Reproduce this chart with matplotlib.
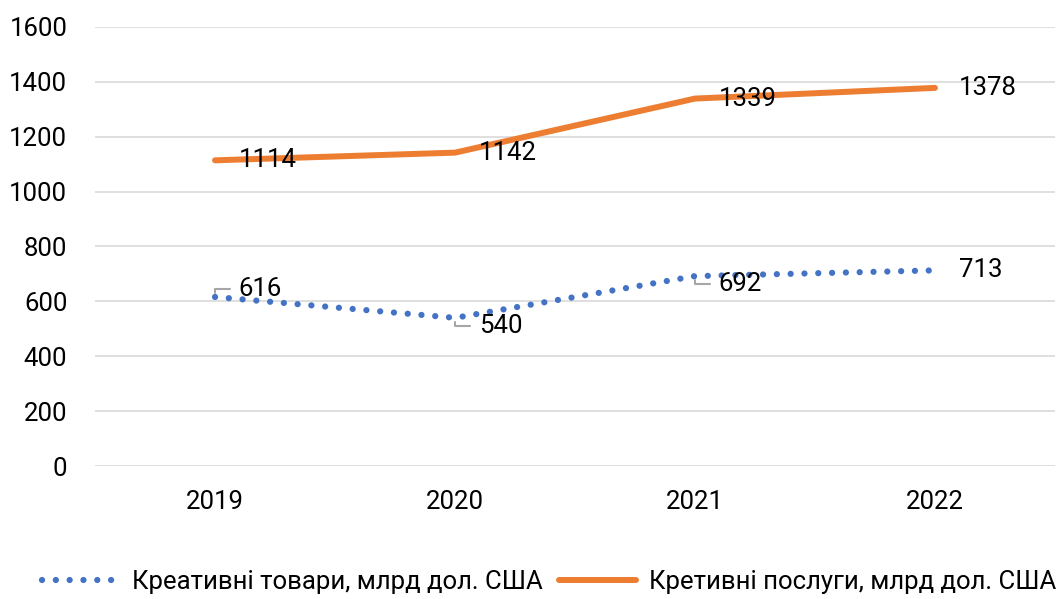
import matplotlib
matplotlib.use("Agg")
import matplotlib.pyplot as plt

years = ["2019", "2020", "2021", "2022"]
goods = [616, 540, 692, 713]
services = [1114, 1142, 1339, 1378]
goods_label = "Креативні товари, млрд дол. США"
services_label = "Кретивні послуги, млрд дол. США"
yticks = [0, 200, 400, 600, 800, 1000, 1200, 1400, 1600]

plt.rcParams['font.family'] = ['Roboto', 'DejaVu Sans']
FS = 18.5

fig = plt.figure(figsize=(10.56, 5.99), dpi=100)
ax = fig.add_axes([0.090, 0.222, 0.909, 0.733])
x = list(range(len(years)))

ax.plot(x, goods, color='#4472C4', linewidth=4.5, linestyle=(0, (0.01, 2.2)),
        dash_capstyle='round', solid_capstyle='round', label=goods_label, zorder=3)
ax.plot(x, services, color='#ED7D31', linewidth=4.3, solid_capstyle='round',
        label=services_label, zorder=3)

ax.set_xlim(-0.5, 3.5)
ax.set_ylim(0, 1600)
ax.set_yticks(yticks)
ax.set_xticks(x)
ax.set_xticklabels(years)
ax.grid(axis='y', color='#D9D9D9', linewidth=1.2)
ax.set_axisbelow(True)
for s in ax.spines.values():
    s.set_visible(False)
ax.tick_params(axis='both', length=0, labelsize=FS, colors='black')
ax.tick_params(axis='y', pad=20)
ax.tick_params(axis='x', pad=17)

# services labels (right of point)
for xi, v in zip(x, services):
    ax.annotate(str(v), (xi, v), xytext=(17, 0), textcoords='offset points',
                ha='left', va='center', fontsize=FS, zorder=4)

# goods labels with leader lines
goods_dy = [6, -6, -6, 0]
for xi, v, dy in zip(x, goods, goods_dy):
    if dy != 0:
        ax.annotate(str(v), (xi, v), xytext=(17, dy), textcoords='offset points',
                    ha='left', va='center', fontsize=FS, zorder=4,
                    arrowprops=dict(arrowstyle='-', color='#A6A6A6', lw=1.5,
                                    connectionstyle='angle,angleA=0,angleB=90,rad=0',
                                    relpos=(0, 0.5), shrinkA=4, shrinkB=3))
    else:
        ax.annotate(str(v), (xi, v), xytext=(17, dy), textcoords='offset points',
                    ha='left', va='center', fontsize=FS, zorder=4)

fig.legend(loc='lower center', bbox_to_anchor=(0.52, -0.03), ncol=2, frameon=False,
           fontsize=FS, handlelength=3.0, handletextpad=0.5, columnspacing=0.6)

fig.savefig("out.png", dpi=100)
